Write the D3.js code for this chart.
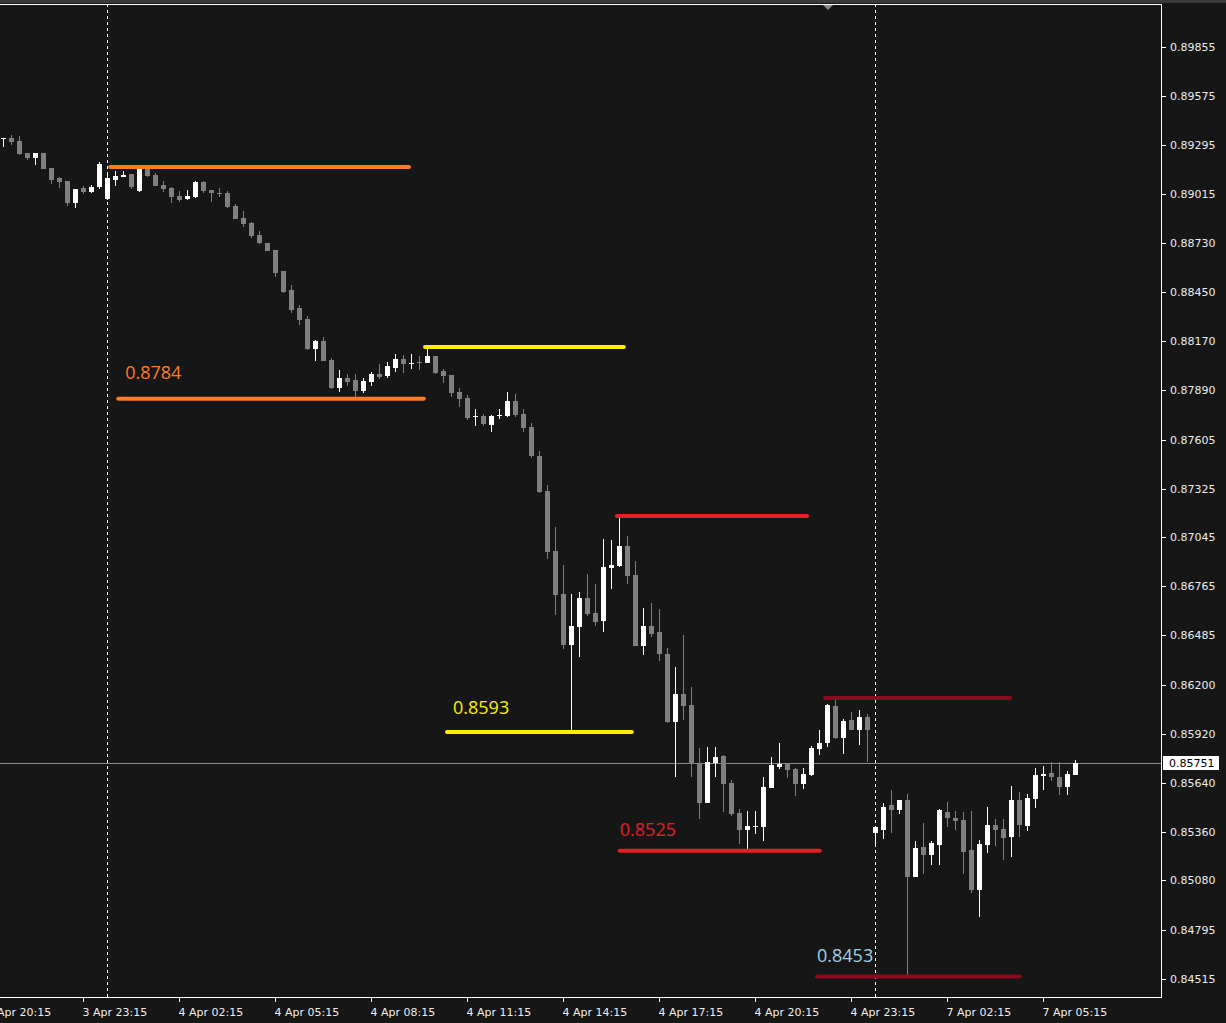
<!DOCTYPE html>
<html><head><meta charset="utf-8">
<script src="https://cdn.jsdelivr.net/npm/d3@7"></script>
<style>html,body{margin:0;padding:0;background:#161616;overflow:hidden}</style>
</head><body>
<svg id="c" width="1226" height="1023"></svg>
<script>
// ---- DATA (EURGBP-like M15 bars) ----
const open = [0.89328,0.89334,0.89316,0.89249,0.89221,0.89249,0.89163,0.89106,0.89089,0.88963,
0.89045,0.89026,0.89055,0.88986,0.89093,0.89112,0.89127,0.89032,0.89154,0.89122,
0.89064,0.89045,0.89001,0.88984,0.88996,0.89082,0.89037,0.89020,0.89020,0.88944,
0.88877,0.88848,0.88778,0.88734,0.88692,0.88572,0.88463,0.88360,0.88298,0.88126,
0.88171,0.88062,0.87899,0.87957,0.87947,0.87886,0.87937,0.87983,0.87972,0.88016,
0.88067,0.88042,0.88050,0.88046,0.88085,0.87999,0.87976,0.87880,0.87846,0.87735,
0.87741,0.87691,0.87744,0.87741,0.87827,0.87752,0.87679,0.87512,0.87311,0.86967,
0.86721,0.86429,0.86532,0.86698,0.86614,0.86566,0.86872,0.86883,0.86996,0.86831,
0.86423,0.86538,0.86501,0.86377,0.85988,0.86148,0.86085,0.85747,0.85523,0.85752,
0.85793,0.85638,0.85466,0.85369,0.85389,0.85386,0.85609,0.85730,0.85747,0.85718,
0.85632,0.85684,0.85833,0.85867,0.86079,0.85896,0.85999,0.85942,0.86016,0.85352,
0.85369,0.85512,0.85483,0.85540,0.85099,0.85271,0.85225,0.85283,0.85472,0.85437,
0.85426,0.85254,0.85025,0.85283,0.85397,0.85374,0.85328,0.85540,0.85392,0.85546,
0.85678,0.85695,0.85672,0.85615,0.85684];
const high = [0.89334,0.89351,0.89347,0.89249,0.89249,0.89249,0.89163,0.89112,0.89089,0.89041,
0.89060,0.89064,0.89196,0.89122,0.89146,0.89146,0.89127,0.89167,0.89162,0.89135,
0.89087,0.89055,0.89030,0.89036,0.89087,0.89087,0.89037,0.89047,0.89030,0.88955,
0.88915,0.88852,0.88801,0.88734,0.88692,0.88572,0.88490,0.88375,0.88314,0.88176,
0.88192,0.88073,0.88004,0.87980,0.87980,0.87957,0.87995,0.88039,0.88052,0.88098,
0.88090,0.88096,0.88085,0.88130,0.88085,0.88010,0.87976,0.87899,0.87861,0.87781,
0.87752,0.87746,0.87781,0.87880,0.87867,0.87781,0.87699,0.87540,0.87345,0.87106,
0.86887,0.86721,0.86731,0.86835,0.86778,0.87036,0.87030,0.87165,0.87055,0.86910,
0.86642,0.86671,0.86635,0.86410,0.86301,0.86486,0.86186,0.85838,0.85844,0.85844,
0.85798,0.85655,0.85489,0.85477,0.85477,0.85672,0.85787,0.85867,0.85752,0.85724,
0.85724,0.85850,0.85942,0.86091,0.86119,0.86005,0.86045,0.86056,0.86033,0.85386,
0.85523,0.85598,0.85540,0.85575,0.85306,0.85409,0.85306,0.85489,0.85529,0.85477,
0.85472,0.85477,0.85311,0.85500,0.85432,0.85432,0.85621,0.85586,0.85575,0.85724,
0.85735,0.85758,0.85758,0.85707,0.85770];
const low = [0.89282,0.89294,0.89238,0.89208,0.89179,0.89156,0.89072,0.89049,0.88946,0.88934,
0.89013,0.89020,0.89041,0.88978,0.89060,0.89112,0.89040,0.89026,0.89112,0.89060,
0.89026,0.88963,0.88967,0.88978,0.88990,0.89020,0.88967,0.88997,0.88931,0.88870,
0.88825,0.88762,0.88726,0.88688,0.88539,0.88445,0.88333,0.88264,0.88119,0.88058,
0.88058,0.87894,0.87877,0.87914,0.87846,0.87874,0.87913,0.87953,0.87958,0.87993,
0.87989,0.88010,0.88004,0.88046,0.87981,0.87931,0.87851,0.87794,0.87718,0.87683,
0.87683,0.87649,0.87723,0.87737,0.87737,0.87651,0.87500,0.87301,0.86920,0.86602,
0.86404,0.85938,0.86362,0.86595,0.86538,0.86505,0.86751,0.86877,0.86780,0.86423,
0.86371,0.86473,0.86339,0.85983,0.85674,0.85999,0.85674,0.85433,0.85523,0.85674,
0.85472,0.85449,0.85288,0.85260,0.85346,0.85306,0.85609,0.85718,0.85667,0.85564,
0.85604,0.85678,0.85798,0.85844,0.85890,0.85804,0.85942,0.85856,0.85758,0.85271,
0.85317,0.85352,0.85460,0.84530,0.85099,0.85117,0.85168,0.85168,0.85386,0.85369,
0.85117,0.85008,0.84870,0.85237,0.85277,0.85197,0.85214,0.85328,0.85363,0.85495,
0.85598,0.85649,0.85569,0.85569,0.85684];
const close = [0.89334,0.89311,0.89242,0.89221,0.89249,0.89156,0.89093,0.89082,0.88963,0.89041,
0.89023,0.89053,0.89186,0.89104,0.89116,0.89122,0.89051,0.89160,0.89118,0.89060,
0.89040,0.88997,0.88977,0.89001,0.89082,0.89032,0.89020,0.89018,0.88937,0.88870,
0.88841,0.88772,0.88734,0.88688,0.88562,0.88451,0.88350,0.88291,0.88126,0.88172,
0.88058,0.87899,0.87957,0.87934,0.87886,0.87941,0.87981,0.87966,0.88027,0.88066,
0.88039,0.88044,0.88047,0.88085,0.87985,0.87972,0.87874,0.87838,0.87731,0.87738,
0.87695,0.87741,0.87746,0.87827,0.87746,0.87672,0.87510,0.87305,0.86963,0.86717,
0.86429,0.86538,0.86698,0.86606,0.86562,0.86877,0.86889,0.86998,0.86826,0.86423,
0.86538,0.86492,0.86375,0.85988,0.86148,0.86079,0.85747,0.85523,0.85758,0.85789,
0.85632,0.85460,0.85369,0.85392,0.85392,0.85615,0.85741,0.85747,0.85712,0.85632,
0.85690,0.85838,0.85867,0.86085,0.85896,0.85993,0.85942,0.86016,0.85942,0.85386,
0.85500,0.85483,0.85540,0.85099,0.85266,0.85225,0.85294,0.85483,0.85437,0.85420,
0.85243,0.85025,0.85288,0.85397,0.85369,0.85323,0.85540,0.85397,0.85552,0.85684,
0.85690,0.85672,0.85615,0.85690,0.85751];

const priceTicks = [0.89855,0.89575,0.89295,0.89015,0.88730,0.88450,0.88170,0.87890,0.87605,0.87325,
0.87045,0.86765,0.86485,0.86200,0.85920,0.85640,0.85360,0.85080,0.84795,0.84515];
const timeLabels = ["3 Apr 20:15","3 Apr 23:15","4 Apr 02:15","4 Apr 05:15","4 Apr 08:15","4 Apr 11:15",
"4 Apr 14:15","4 Apr 17:15","4 Apr 20:15","4 Apr 23:15","7 Apr 02:15","7 Apr 05:15"];
const timeLabelBars = [-2,10,22,34,46,58,70,82,94,106,118,130];
const separatorBars = [13,109];
const lastPrice = 0.85751;

// horizontal levels: price, start bar, end bar, label
const levelPrice = [0.89167,0.8784,0.88136,0.8593,0.87168,0.8525,0.86125,0.8453];
const levelFrom  = [13.4,14.4,52.75,55.5,76.75,77.1,102.75,101.75];
const levelTo    = [50.75,52.6,77.6,78.6,100.5,102.1,125.9,127.1];
const levelLabel = ["","0.8784","","0.8593","","0.8525","","0.8453"];
const levelColor = ["#ff7b25","#ff7b25","#ffee00","#ffee00","#e41f26","#e41f26","#8c0a1c","#8c0a1c"];
const labelColor = ["#ff7b25","#ff7b25","#ffee00","#ffee00","#e41f26","#e41f26","#9fd2e6","#9fd2e6"];
const labelDy    = [0,-20,0,-18,0,-15,0,-14];

// ---- DRAW ----
const svg = d3.select("#c");
const plotR = 1161, plotT = 4, plotB = 997;
const y = d3.scaleLinear().domain([0.84515,0.89855]).range([979,47]);
const x = d3.scaleLinear().domain([0,134]).range([3,1075]);

svg.append("rect").attr("width",1226).attr("height",1023).attr("fill","#161616");
svg.append("rect").attr("x",0).attr("y",0).attr("width",1226).attr("height",3).attr("fill","#3a3a3a");

const clip = svg.append("clipPath").attr("id","pc").append("rect")
  .attr("x",0).attr("y",plotT).attr("width",plotR).attr("height",plotB-plotT);
const g = svg.append("g").attr("clip-path","url(#pc)").attr("shape-rendering","crispEdges");

// separators
separatorBars.forEach(b=>{
  g.append("line").attr("x1",x(b)+0.5).attr("x2",x(b)+0.5).attr("y1",plotT).attr("y2",plotB)
   .attr("stroke","#ffffff").attr("stroke-width",1).attr("stroke-dasharray","3,3");
});

// last price line
g.append("line").attr("x1",0).attr("x2",plotR).attr("y1",Math.round(y(lastPrice))+0.5).attr("y2",Math.round(y(lastPrice))+0.5)
  .attr("stroke","#8a8a8a").attr("stroke-width",1);

// candles
const idx = d3.range(open.length);
const cg = g.append("g");
idx.forEach(i=>{
  const bull = close[i] >= open[i];
  const col = bull ? "#ffffff" : "#808080";
  const cx = Math.round(x(i));
  const hy = Math.round(y(high[i])), ly = Math.round(y(low[i]));
  cg.append("rect").attr("x",cx).attr("y",hy).attr("width",1).attr("height",Math.max(1,ly-hy)).attr("fill",col);
  const bt = Math.round(y(Math.max(open[i],close[i]))), bb = Math.round(y(Math.min(open[i],close[i])));
  cg.append("rect").attr("x",cx-2).attr("y",bt).attr("width",5).attr("height",Math.max(1,bb-bt)).attr("fill",col);
});

// levels
const lg = svg.append("g");
levelPrice.forEach((p,i)=>{
  lg.append("line").attr("x1",x(levelFrom[i])).attr("x2",x(levelTo[i])).attr("y1",y(p)).attr("y2",y(p))
    .attr("stroke",levelColor[i]).attr("stroke-width",4).attr("stroke-linecap","round");
  if(levelLabel[i]){
    lg.append("text").attr("x",x(levelFrom[i])+ (i===1?7:(i===3?6:0))).attr("y",y(p)+labelDy[i])
      .attr("fill",labelColor[i]).attr("font-family","'Open Sans','Liberation Sans',sans-serif")
      .attr("font-size",18).text(levelLabel[i]);
  }
});

// chart shift marker
svg.append("path").attr("d","M823,5 L833,5 L828,10 Z").attr("fill","#8a8a8a");

// frame
svg.append("path").attr("d",`M0,${plotT+0.5} H${plotR+0.5} V${plotB+0.5} H0`)
  .attr("fill","none").attr("stroke","#ffffff").attr("stroke-width",1).attr("shape-rendering","crispEdges");

// y axis
const yAxis = d3.axisRight(y).tickValues(priceTicks).tickFormat(d3.format(".5f")).tickSize(4).tickPadding(4);
const ya = svg.append("g").attr("transform",`translate(${plotR+1},0)`).call(yAxis);
ya.select(".domain").remove();
ya.selectAll("line").attr("stroke","#ffffff").attr("shape-rendering","crispEdges");
ya.selectAll("text").attr("fill","#ececec").attr("font-family","'DejaVu Sans',sans-serif").attr("font-size",11);

// x axis
const xAxis = d3.axisBottom(x).tickValues(timeLabelBars).tickFormat((d,i)=>timeLabels[i]).tickSize(4).tickPadding(6);
const xa = svg.append("g").attr("transform",`translate(0,${plotB+1})`).call(xAxis);
xa.select(".domain").remove();
xa.selectAll("line").attr("stroke","#ffffff").attr("shape-rendering","crispEdges");
xa.selectAll("text").attr("fill","#ececec").attr("font-family","'DejaVu Sans',sans-serif").attr("font-size",11)
  .attr("text-anchor","start").attr("dx",-1);

// last price tag
const ly0 = Math.round(y(lastPrice));
svg.append("rect").attr("x",plotR+2).attr("y",ly0-7).attr("width",56).attr("height",14).attr("fill","#ffffff");
svg.append("text").attr("x",plotR+8).attr("y",ly0+4).attr("fill","#000000")
  .attr("font-family","'DejaVu Sans',sans-serif").attr("font-size",11).text(d3.format(".5f")(lastPrice));
</script>
</body></html>
